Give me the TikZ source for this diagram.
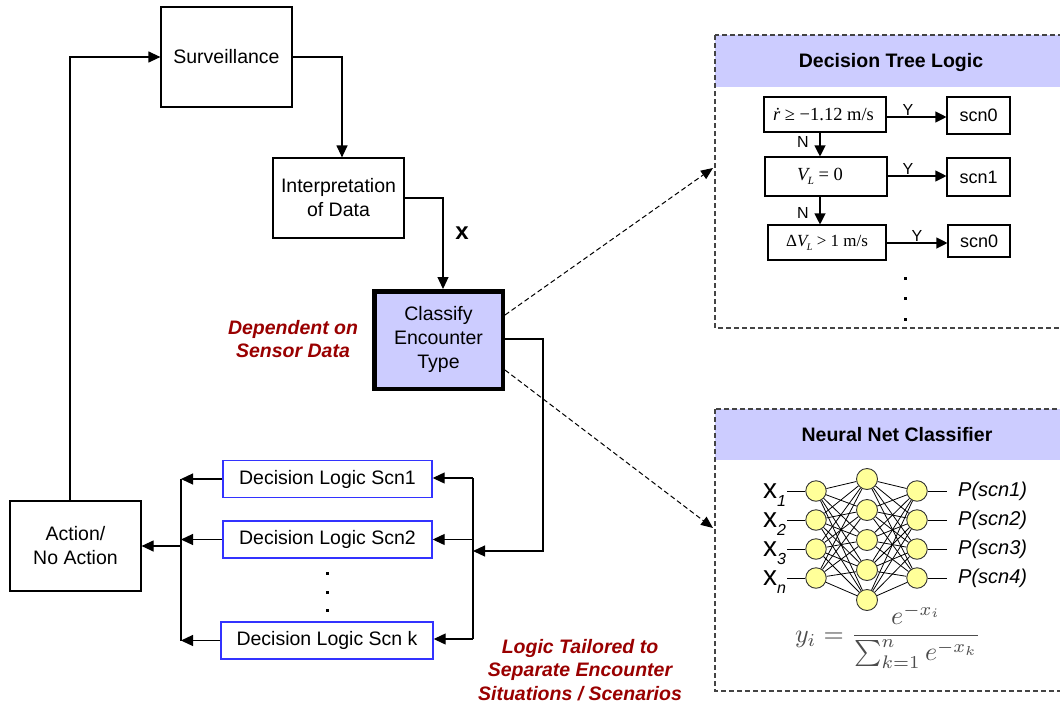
\documentclass[tikz,border=0pt]{standalone}
\usepackage{fontspec}
\usepackage{graphicx}
\setmainfont{Liberation Sans}
\newfontfamily\tms{Liberation Serif}
\usetikzlibrary{arrows.meta,calc}
\definecolor{lav}{HTML}{CCCCFF}
\definecolor{dred}{HTML}{990000}
\definecolor{nodey}{HTML}{FFFF99}
\definecolor{lblue}{HTML}{3333FF}
\definecolor{dashgray}{HTML}{444444}
\newcommand\fsz{\fontsize{19.5}{24}\selectfont}
\newcommand\tsz{\fontsize{18}{20}\selectfont}

\begin{document}
\begin{tikzpicture}[x=1pt,y=-1pt,
  box/.style={draw, line width=1.2pt, inner sep=0pt, align=center, font=\fsz},
  dlbox/.style={draw=lblue, line width=1.4pt, inner sep=0pt, font=\fsz,
    minimum height=37pt},
  tbox/.style={draw, line width=1.1pt, inner sep=0pt, font=\tsz},
  arr/.style={line width=1.2pt, -{Triangle[length=12pt,width=11pt]}},
  tarr/.style={line width=1.1pt, -{Triangle[length=11pt,width=11pt]}},
  darr/.style={line width=1pt, dash pattern=on 5pt off 3pt,
    -{Triangle[length=12pt,width=10pt]}},
  panel/.style={draw=dashgray, line width=1.2pt, dash pattern=on 5pt off 3pt},
  redtxt/.style={text=dred, align=center, inner sep=0pt,
    font=\fontsize{19.5}{23.5}\selectfont\bfseries\itshape},
  ptitle/.style={font=\fontsize{19.5}{24}\selectfont\bfseries, inner sep=0pt},
  nn/.style={circle, draw=black!80, fill=nodey, line width=0.9pt,
    minimum size=20.5pt, inner sep=0pt},
  yn/.style={font=\fontsize{16}{16}\selectfont, inner sep=0pt},
  tmath/.style={font=\tms\fontsize{18.5}{19}\selectfont},
]
\useasboundingbox (0,0) rectangle (1060,707);
\clip (0,0) rectangle (1060,707);

% ---------- main loop ----------
\node[box, minimum width=131pt, minimum height=100pt] (surv) at (226.5,57) {Surveillance};
\node[box, minimum width=131pt, minimum height=80pt] (interp) at (338.5,198)
  {Interpretation\\of Data};
\node[box, draw, line width=4.5pt, fill=lav, minimum width=128.5pt, minimum height=97.5pt]
  (cls) at (438.5,340) {\raisebox{-3pt}{\begin{tabular}{@{}c@{}}Classify\\Encounter\\Type\end{tabular}}};
\node[box, minimum width=131pt, minimum height=90pt] (act) at (75.5,546)
  {Action/\\No Action};

\node[dlbox, minimum width=209pt] (dl1) at (327.5,479) {Decision Logic Scn1};
\node[dlbox, minimum width=209pt] (dl2) at (327.5,539.5) {Decision Logic Scn2};
\node[dlbox, minimum width=212pt] (dlk) at (327,640.5) {Decision Logic Scn k};

\foreach \y [count=\i] in {573,592,610}
  \fill (325.5,\y-1.5) rectangle ++(3.5,3.5);

\node[font=\fontsize{24}{24}\selectfont\bfseries, inner sep=0pt] (xlab) at (462,233) {x};

\node[redtxt] (dep) at (293,339) {Dependent on\\Sensor Data};
\node[redtxt] (tail) at (580,670) {Logic Tailored to\\Separate Encounter\\Situations / Scenarios};

% connectors of the loop
\draw[arr] ([xshift=-5.5pt]act.north) |- (surv.west);
\draw[arr] (surv.east) -| ([xshift=3.5pt]interp.north);
\draw[arr] (interp.east) -| ([xshift=4.5pt]cls.north);

% right bus feeding the scenario logic blocks
\coordinate (rbtop) at (473,478);
\coordinate (rbbot) at (473,639);
\coordinate (rbin) at (473,551);
\coordinate (clsout) at (543,339);
\draw[line width=1.2pt] (rbtop) -- (rbbot);
\draw[arr] (cls.east |- clsout) -- (clsout) |- (rbin);
\draw[arr] (rbtop) -- (rbtop -| dl1.east);
\draw[arr] (rbtop |- dl2.east) -- (dl2.east);
\draw[arr] (rbbot) -- (rbbot -| dlk.east);

% left bus collecting the outputs
\coordinate (lbtop) at (181,479);
\coordinate (lbbot) at (181,641);
\coordinate (lbmid) at (181,546);
\draw[line width=1.2pt] (lbtop) -- (lbbot);
\draw[arr] (dl1.west) -- (dl1.west -| lbtop);
\draw[arr] (dl2.west) -- (dl2.west -| lbtop);
\draw[arr] (dlk.west) -- (dlk.west -| lbtop);
\draw[arr] (lbmid) -- (act.east);

% dashed pointers to the two classifier options
\coordinate (d1s) at (505,315);
\coordinate (d1e) at (713,168);
\coordinate (d2s) at (505,370);
\coordinate (d2e) at (713,528);
\draw[darr] (d1s) -- (d1e);
\draw[darr] (d2s) -- (d2e);

% ---------- decision tree panel ----------
\fill[lav] (715,35) rectangle (1080,87);
\draw[panel] (715,35) rectangle (1080,328);
\node[ptitle] (dtt) at (891,62) {Decision Tree Logic};

\node[tbox, tmath, minimum width=122pt, minimum height=35pt] (t1) at (825,114.5)
  {\itshape ṙ\upshape\ ≥\ −1.12\ m/s\hspace*{3pt}};
\node[tbox, tmath, minimum width=122pt, minimum height=39pt] (t2) at (826,176.5)
  {\hspace*{-12pt}\itshape V\kern-0.5pt\raisebox{-4pt}{\fontsize{11}{11}\selectfont L}\upshape\ = 0};
\node[tbox, tmath, minimum width=118pt, minimum height=35pt] (t3) at (827,242.5)
  {\fontsize{17}{17}\selectfont Δ\itshape V\kern-0.5pt\raisebox{-4pt}{\fontsize{10}{10}\selectfont L}\upshape\ > 1 m/s};

\node[tbox, minimum width=63pt, minimum height=37pt] (s1) at (978.5,115.5) {scn0};
\node[tbox, minimum width=63pt, minimum height=38pt] (s2) at (978.5,177) {scn1};
\node[tbox, minimum width=62pt, minimum height=32pt] (s3) at (979,241) {scn0};

\coordinate (nx) at (820,0);
\draw[tarr] (t1.south -| nx) -- (t2.north -| nx);
\draw[tarr] (t2.south -| nx) -- (t3.north -| nx);
\node[yn] (n1) at (803,142) {N};
\node[yn] (n2) at (803,213) {N};

\coordinate (y1) at (886,117);
\coordinate (y2) at (887,176);
\coordinate (y3) at (886,243);
\draw[tarr] (y1) -- (y1 -| s1.west);
\draw[tarr] (y2) -- (y2 -| s2.west);
\draw[tarr] (y3) -- (y3 -| s3.west);
\node[yn, anchor=south] (ylab1) at (908,116) {Y};
\node[yn, anchor=south] (ylab2) at (908,175) {Y};
\node[yn, anchor=south] (ylab3) at (917,242) {Y};

\foreach \y in {278,298,319}
  \fill (903.5,\y-1.5) rectangle ++(3,3);

% ---------- neural net panel ----------
\fill[lav] (715,409) rectangle (1080,460);
\draw[panel] (715,409) rectangle (1080,691);
\node[ptitle] (nnt) at (897,435) {Neural Net Classifier};

\foreach \y [count=\i] in {491,520,549,578}
  \node[nn] (in\i) at (816,\y) {};
\foreach \y [count=\i] in {479,510,540,570,600}
  \node[nn, minimum size=21pt] (hd\i) at (867,\y) {};
\foreach \y [count=\i] in {491,520,549,578}
  \node[nn] (out\i) at (917,\y) {};

\foreach \a in {1,...,4}
  \foreach \b in {1,...,5}
    \draw[line width=0.8pt] (in\a) -- (hd\b);
\foreach \b in {1,...,5}
  \foreach \c in {1,...,4}
    \draw[line width=0.8pt] (hd\b) -- (out\c);

\foreach \y/\s [count=\i] in {491/1,520/2,549/3,578/n} {
  \coordinate (xi\i) at (787,\y);
  \draw[line width=1pt] (xi\i) -- (in\i);
  \node[anchor=base west, inner sep=0pt, font=\fontsize{28}{28}\selectfont] (xl\i)
    at (763,\y+7) {x\raisebox{-8pt}{\fontsize{16}{16}\selectfont\itshape\s}};
}
\foreach \y [count=\i] in {491,520,549,578} {
  \coordinate (po\i) at (947,\y);
  \draw[line width=1pt] (out\i) -- (po\i);
  \node[anchor=west, inner sep=0pt, font=\fontsize{20}{20}\selectfont\itshape] (pl\i)
    at (958,\y) {P(scn\i)};
}

\node[text=black!70, inner sep=0pt] (soft) at (888,636)
  {\scalebox{2.6}{$\displaystyle y_i=\frac{e^{-x_i}}{\sum_{k=1}^{n}e^{-x_k}}$}};
\end{tikzpicture}
\end{document}
